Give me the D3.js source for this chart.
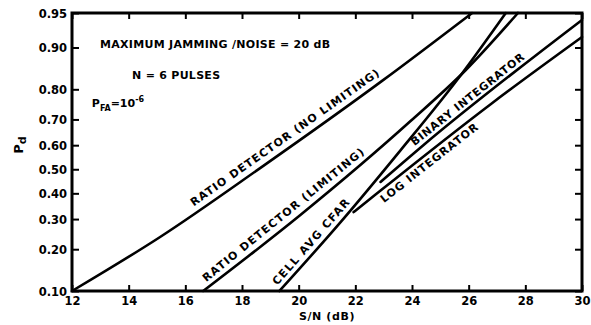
<!DOCTYPE html>
<html><head><meta charset="utf-8">
<script src="https://cdn.jsdelivr.net/npm/d3@7"></script>
<style>
html,body{margin:0;padding:0;background:#fff;}
svg{display:block;}
text{font-family:"DejaVu Sans",sans-serif;font-weight:bold;fill:#000;}
</style></head><body>
<svg id="chart" width="591" height="325"></svg>
<script>
// ---------- data ----------
const xTicks = [12, 14, 16, 18, 20, 22, 24, 26, 28, 30];
const yTicks = [0.10, 0.20, 0.30, 0.40, 0.50, 0.60, 0.70, 0.80, 0.90, 0.95];
const yTickLabels = ["0.10", "0.20", "0.30", "0.40", "0.50", "0.60", "0.70", "0.80", "0.90", "0.95"];

const seriesNames = ["RATIO DETECTOR (NO LIMITING)", "RATIO DETECTOR (LIMITING)", "CELL AVG CFAR", "BINARY INTEGRATOR", "LOG INTEGRATOR"];

const ratioNoLimSNR = [12.0, 15.11, 18.64, 22.98, 26.12];
const ratioNoLimPd  = [0.10, 0.238, 0.505, 0.826, 0.95];

const ratioLimSNR = [16.63, 20.06, 23.95, 25.90, 27.74];
const ratioLimPd  = [0.10, 0.315, 0.694, 0.852, 0.95];

const cellAvgSNR = [19.32, 21.48, 23.60, 25.72, 27.31];
const cellAvgPd  = [0.10, 0.289, 0.580, 0.839, 0.95];

const binarySNR = [22.89, 24.4, 30.0];
const binaryPd  = [0.447, 0.60, 0.942];

const logIntSNR = [21.94, 22.55, 26.80, 30.0];
const logIntPd  = [0.326, 0.38, 0.755, 0.918];

// ---------- helpers ----------
function probit(p){
  const a=[-3.969683028665376e+01,2.209460984245205e+02,-2.759285104469687e+02,1.383577518672690e+02,-3.066479806614716e+01,2.506628277459239e+00];
  const b=[-5.447609879822406e+01,1.615858368580409e+02,-1.556989798598866e+02,6.680131188771972e+01,-1.328068155288572e+01];
  const c=[-7.784894002430293e-03,-3.223964580411365e-01,-2.400758277161838e+00,-2.549732539343734e+00,4.374664141464968e+00,2.938163982698783e+00];
  const d=[7.784695709041462e-03,3.224671290700398e-01,2.445134137142996e+00,3.754408661907416e+00];
  const pl=0.02425, ph=1-pl; let q,r;
  if(p<pl){q=Math.sqrt(-2*Math.log(p));return (((((c[0]*q+c[1])*q+c[2])*q+c[3])*q+c[4])*q+c[5])/((((d[0]*q+d[1])*q+d[2])*q+d[3])*q+1);}
  if(p>ph){q=Math.sqrt(-2*Math.log(1-p));return -(((((c[0]*q+c[1])*q+c[2])*q+c[3])*q+c[4])*q+c[5])/((((d[0]*q+d[1])*q+d[2])*q+d[3])*q+1);}
  q=p-0.5;r=q*q;
  return (((((a[0]*r+a[1])*r+a[2])*r+a[3])*r+a[4])*r+a[5])*q/(((((b[0]*r+b[1])*r+b[2])*r+b[3])*r+b[4])*r+1);
}

const series = [
  [ratioNoLimSNR, ratioNoLimPd],
  [ratioLimSNR, ratioLimPd],
  [cellAvgSNR, cellAvgPd],
  [binarySNR, binaryPd],
  [logIntSNR, logIntPd]
].map(([s, p], i) => ({name: seriesNames[i], pts: s.map((v, j) => [v, p[j]])}));

// ---------- layout ----------
const svg = d3.select("#chart");
const x = d3.scaleLinear().domain([12, 30]).range([72, 582]);
const yz = d3.scaleLinear().domain([probit(0.10), probit(0.95)]).range([291, 13]);
const y = p => yz(probit(p));

// axes
const axB = svg.append("g").attr("transform", `translate(0,${yz.range()[0]})`)
  .call(d3.axisBottom(x).tickValues(xTicks).tickSizeInner(-6).tickSizeOuter(0).tickPadding(6).tickFormat(d3.format("d")));
const axT = svg.append("g").attr("transform", `translate(0,${yz.range()[1]})`)
  .call(d3.axisTop(x).tickValues(xTicks).tickSizeInner(-6).tickSizeOuter(0).tickFormat(""));
const axL = svg.append("g").attr("transform", `translate(${x.range()[0]},0)`)
  .call(d3.axisLeft(yz).tickValues(yTicks.map(probit)).tickSizeInner(-7).tickSizeOuter(0).tickPadding(5).tickFormat((d, i) => yTickLabels[i]));
const axR = svg.append("g").attr("transform", `translate(${x.range()[1]},0)`)
  .call(d3.axisRight(yz).tickValues(yTicks.map(probit)).tickSizeInner(-7).tickSizeOuter(0).tickFormat(""));

[axB, axT, axL, axR].forEach(g => {
  g.select(".domain").remove();
  g.selectAll(".tick line").attr("stroke", "#000").attr("stroke-width", 2);
  g.selectAll(".tick text").attr("fill", "#000").attr("font-weight", "bold");
});
axB.selectAll(".tick text").attr("font-size", 11.5).attr("font-family", "Liberation Sans");
axL.selectAll(".tick text").attr("font-size", 11.5).attr("font-family", "DejaVu Sans").attr("dy", "0.38em");

// frame
svg.append("rect")
  .attr("x", x.range()[0]).attr("y", yz.range()[1])
  .attr("width", x.range()[1] - x.range()[0]).attr("height", yz.range()[0] - yz.range()[1])
  .attr("fill", "none").attr("stroke", "#000").attr("stroke-width", 3);

// curves
const line = d3.line().x(d => x(d[0])).y(d => y(d[1])).curve(d3.curveMonotoneX);
svg.append("g").selectAll("path").data(series).join("path")
  .attr("d", d => line(d.pts))
  .attr("fill", "none").attr("stroke", "#000").attr("stroke-width", 2.6).attr("stroke-linecap", "round");

// labels along curves
function pixAt(pts, db){
  const px = pts.map(d => [x(d[0]), y(d[1])]);
  const X = x(db);
  let k = 0;
  while (k < px.length - 2 && px[k + 1][0] < X) k++;
  const a = px[k], b = px[k + 1];
  const t = (X - a[0]) / (b[0] - a[0]);
  return [X, a[1] + t * (b[1] - a[1])];
}
const labelSpec = [
  {i: 0, d0: 16.42, d1: 23.0, off: 6},
  {i: 1, d0: 16.85, d1: 22.45, off: 5},
  {i: 2, d0: 19.38, d1: 21.95, off: 5},
  {i: 3, d0: 24.2, d1: 28.1, off: 5},
  {i: 4, d0: 22.75, d1: 26.1, off: -4}
];
labelSpec.forEach(L => {
  const pts = series[L.i].pts;
  const s = pixAt(pts, L.d0), e = pixAt(pts, L.d1);
  const ang = Math.atan2(e[1] - s[1], e[0] - s[0]);
  const len = Math.hypot(e[0] - s[0], e[1] - s[1]);
  const nx = Math.sin(ang), ny = -Math.cos(ang);
  const ox = s[0] + nx * L.off, oy = s[1] + ny * L.off;
  svg.append("text")
    .attr("transform", `translate(${ox},${oy}) rotate(${ang * 180 / Math.PI})`)
    .attr("font-size", 11)
    .attr("dominant-baseline", L.off < 0 ? "hanging" : "auto")
    .attr("textLength", len).attr("lengthAdjust", "spacing")
    .text(series[L.i].name);
});

// annotations
svg.append("text").attr("x", x(12.99)).attr("y", y(0.90)).attr("font-size", 11)
  .attr("textLength", 230).attr("lengthAdjust", "spacing")
  .text("MAXIMUM JAMMING /NOISE = 20 dB");
svg.append("text").attr("x", x(14.12)).attr("y", y(0.83)).attr("font-size", 11)
  .attr("textLength", 88).attr("lengthAdjust", "spacing")
  .text("N = 6 PULSES");
const pfa = svg.append("text").attr("x", x(12.7)).attr("y", y(0.745)).attr("font-size", 11);
pfa.append("tspan").text("P");
pfa.append("tspan").attr("font-size", 8).attr("dy", 4).text("FA");
pfa.append("tspan").attr("dy", -4).text("=10");
pfa.append("tspan").attr("font-size", 8).attr("dy", -5).text("-6");

// axis titles
const yt = svg.append("text").attr("transform", "translate(23,145) rotate(-90)")
  .attr("text-anchor", "middle").attr("font-size", 13);
yt.append("tspan").text("P");
yt.append("tspan").attr("font-size", 11).attr("dy", 3).text("d");

svg.append("text").attr("x", (x(20) + x(22)) / 2).attr("y", 320)
  .attr("text-anchor", "middle").attr("font-size", 11).attr("letter-spacing", 0.6)
  .text("S/N (dB)");
</script>
</body></html>
